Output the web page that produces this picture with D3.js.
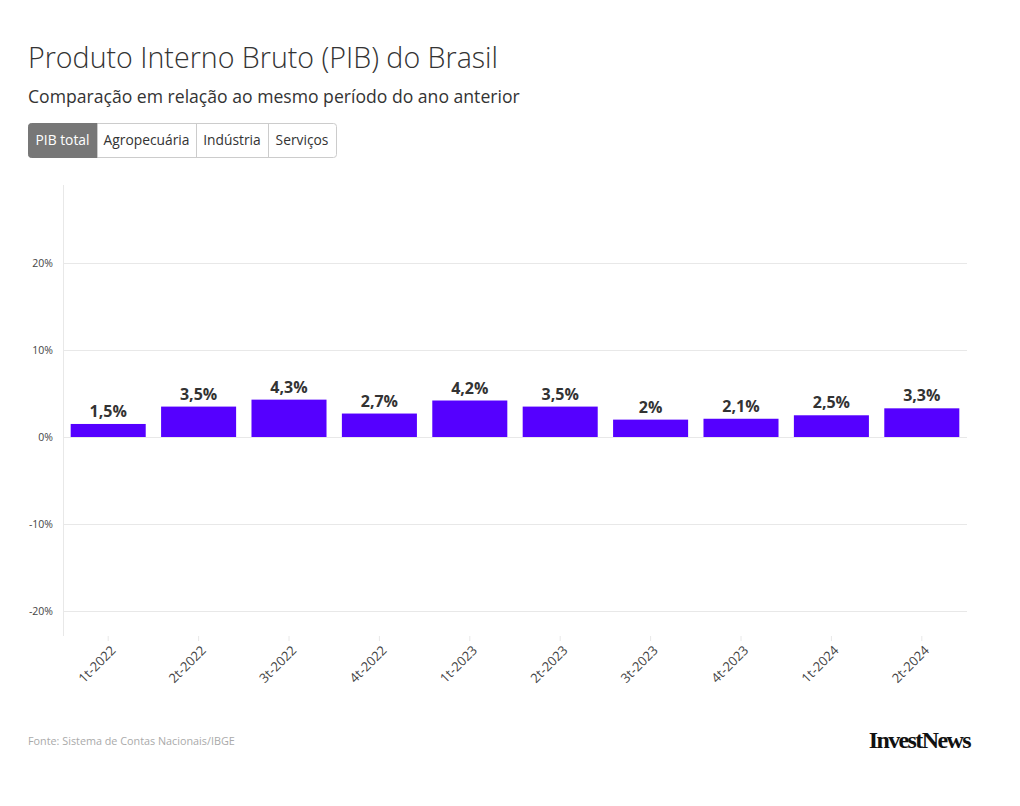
<!DOCTYPE html>
<html><head><meta charset="utf-8">
<script src="https://cdn.jsdelivr.net/npm/d3@7"></script>
<style>
body{margin:0;background:#fff;font-family:"Open Sans","Noto Sans",sans-serif;}
</style></head>
<body>
<svg id="chart" width="1020" height="806"></svg>
<script>
const categories = ["1t-2022","2t-2022","3t-2022","4t-2022","1t-2023","2t-2023","3t-2023","4t-2023","1t-2024","2t-2024"];
const values = [1.5,3.5,4.3,2.7,4.2,3.5,2.0,2.1,2.5,3.3];
const yTicks = [-20,-10,0,10,20];
const buttons = ["PIB total","Agropecuária","Indústria","Serviços"];

const svg = d3.select("#chart");
const font = "'Open Sans','Noto Sans',sans-serif";
const L = 63, R = 967, T = 185, B = 636;

svg.append("text").attr("x",28).attr("y",68).attr("font-family",font).attr("font-weight",300)
  .attr("font-size",28.6).attr("fill","#333").text("Produto Interno Bruto (PIB) do Brasil");
svg.append("text").attr("x",28).attr("y",103).attr("font-family",font)
  .attr("font-size",17.6).attr("fill","#333").text("Comparação em relação ao mesmo período do ano anterior");

// buttons
const bw = [69,99,72,68];
let bx = 28;
const bg = svg.append("g");
bg.append("rect").attr("x",28.5).attr("y",123.5).attr("width",308).attr("height",34).attr("rx",3)
  .attr("fill","#fff").attr("stroke","#ccc");
buttons.forEach((b,i)=>{
  if(i===0){
    bg.append("path").attr("d",`M${bx+3.5},123.5 H${bx+bw[i]} V157.5 H${bx+3.5} Q${bx+0.5},157.5 ${bx+0.5},154.5 V126.5 Q${bx+0.5},123.5 ${bx+3.5},123.5 Z`)
      .attr("fill","#777").attr("stroke","#777");
  } else {
    bg.append("line").attr("x1",bx+0.5).attr("x2",bx+0.5).attr("y1",124).attr("y2",157).attr("stroke","#ccc");
  }
  bg.append("text").attr("x",bx+bw[i]/2).attr("y",145).attr("text-anchor","middle")
    .attr("font-family",font).attr("font-size",13.8).attr("fill",i===0?"#fff":"#333").text(b);
  bx += bw[i];
});

const x = d3.scaleBand().domain(categories).range([L,R]).paddingInner(0.17).paddingOuter(0.085);
const y = d3.scaleLinear().domain([-22.9,29]).range([B,T]);

// grid
svg.append("g").selectAll("line").data(yTicks).join("line")
  .attr("x1",L).attr("x2",R).attr("y1",d=>Math.round(y(d))+0.5).attr("y2",d=>Math.round(y(d))+0.5)
  .attr("stroke","#e8e8e8");
svg.append("line").attr("x1",L+0.5).attr("x2",L+0.5).attr("y1",T).attr("y2",B).attr("stroke","#e8e8e8");

const yAxis = svg.append("g").attr("transform",`translate(${L},0)`)
  .call(d3.axisLeft(y).tickValues(yTicks).tickSize(0).tickPadding(10).tickFormat(d=>d+"%"));
yAxis.select(".domain").remove();
yAxis.selectAll("text").attr("font-family",font).attr("font-size",10.5).attr("fill","#444");

const xAxis = svg.append("g").attr("transform",`translate(0,${B})`)
  .call(d3.axisBottom(x).tickSize(5).tickPadding(4));
xAxis.select(".domain").remove();
xAxis.selectAll("line").attr("stroke","#e8e8e8");
xAxis.selectAll("text").attr("font-family",font).attr("font-size",13).attr("fill","#444")
  .attr("text-anchor","end").attr("x",0).attr("y",0).attr("dy","0.35em")
  .attr("transform","translate(5,12) rotate(-45)");

svg.append("g").selectAll("rect").data(values).join("rect")
  .attr("x",(d,i)=>x(categories[i])).attr("width",x.bandwidth())
  .attr("y",d=>y(d)).attr("height",d=>y(0)-y(d)).attr("fill","#5500ff");

svg.append("g").selectAll("text").data(values).join("text")
  .attr("x",(d,i)=>x(categories[i])+x.bandwidth()/2).attr("y",d=>y(d)-7)
  .attr("text-anchor","middle").attr("font-family",font).attr("font-weight",700)
  .attr("font-size",16).attr("fill","#333")
  .text(d=>String(d).replace(".",",")+"%");

svg.append("text").attr("x",28).attr("y",745).attr("font-family",font).attr("font-size",10.8)
  .attr("fill","#aaa").text("Fonte: Sistema de Contas Nacionais/IBGE");
svg.append("text").attr("x",970).attr("y",748).attr("text-anchor","end")
  .attr("font-family","'Liberation Serif','DejaVu Serif',serif").attr("font-size",24).attr("font-weight",700)
  .attr("letter-spacing",-1.6).attr("fill","#111").text("InvestNews");
</script>
</body></html>
